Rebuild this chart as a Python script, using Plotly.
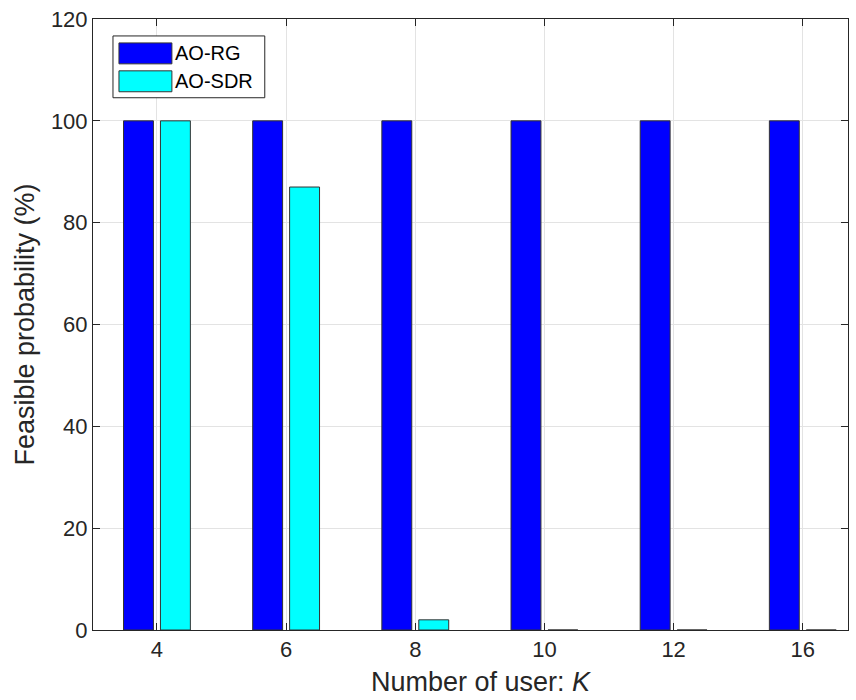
import plotly.graph_objects as go

categories = ["4", "6", "8", "10", "12", "16"]
ao_rg = [100, 100, 100, 100, 100, 100]
ao_sdr = [100, 87, 2, 0, 0, 0]
y_ticks = [0, 20, 40, 60, 80, 100, 120]
series_names = ["AO-RG", "AO-SDR"]
series_colors = ["#0000ff", "#00ffff"]

xpos = list(range(len(categories)))
FONT = "Liberation Sans, Arial, sans-serif"
TXT = "#262626"

fig = go.Figure()
for name, vals, col in zip(series_names, [ao_rg, ao_sdr], series_colors):
    fig.add_trace(go.Bar(x=xpos, y=vals, name=name, marker=dict(color=col, line=dict(color="#333333", width=1)),
                         showlegend=False))

W, H = 856, 700
ml, mr, mt, mb = 93, 7, 17, 70
pw, ph = W - ml - mr, H - mt - mb

def px(x):
    return (x - ml) / pw

def py(y):
    return 1 - (y - mt) / ph

shapes = []
annotations = []
# legend box
shapes.append(dict(type="rect", xref="paper", yref="paper", x0=px(113), x1=px(265), y0=py(96), y1=py(34),
                   line=dict(color="#262626", width=1), fillcolor="white", layer="above"))
rows = [(41, 62), (69, 90)]
for (y0, y1), name, col in zip(rows, series_names, series_colors):
    shapes.append(dict(type="rect", xref="paper", yref="paper", x0=px(119), x1=px(172), y0=py(y1), y1=py(y0),
                       line=dict(color="#333333", width=1), fillcolor=col, layer="above"))
    annotations.append(dict(text=name, xref="paper", yref="paper", x=px(173), y=py((y0 + y1) / 2),
                            xanchor="left", yanchor="middle", showarrow=False,
                            font=dict(family=FONT, size=20, color="black")))

# x-axis title
annotations.append(dict(text="Number of user: <i>K</i>", xref="paper", yref="paper", x=px(482), y=py(682),
                        xanchor="center", yanchor="middle", showarrow=False,
                        font=dict(family=FONT, size=27, color=TXT)))

fig.update_layout(
    width=W, height=H,
    margin=dict(l=ml, r=mr, t=mt, b=mb),
    paper_bgcolor="white", plot_bgcolor="white",
    barmode="group", bargap=0.428, bargroupgap=0.19,
    font=dict(family=FONT, color=TXT),
    shapes=shapes, annotations=annotations,
    xaxis=dict(tickmode="array", tickvals=xpos, ticktext=categories, range=[-0.495, 5.35],
               showgrid=True, gridcolor="#e3e3e3", gridwidth=1,
               showline=True, linecolor="#262626", linewidth=1, mirror="ticks",
               ticks="inside", ticklen=7, tickcolor="#262626",
               tickfont=dict(size=22, color=TXT),
               zeroline=False),
    yaxis=dict(tickmode="array", tickvals=y_ticks, range=[0, 120],
               showgrid=True, gridcolor="#e3e3e3", gridwidth=1,
               showline=True, linecolor="#262626", linewidth=1, mirror="ticks",
               ticks="inside", ticklen=7, tickcolor="#262626",
               tickfont=dict(size=22, color=TXT),
               title=dict(text="Feasible probability (%)", font=dict(size=27, color=TXT), standoff=8),
               zeroline=False),
)

fig.write_html("out.html")
